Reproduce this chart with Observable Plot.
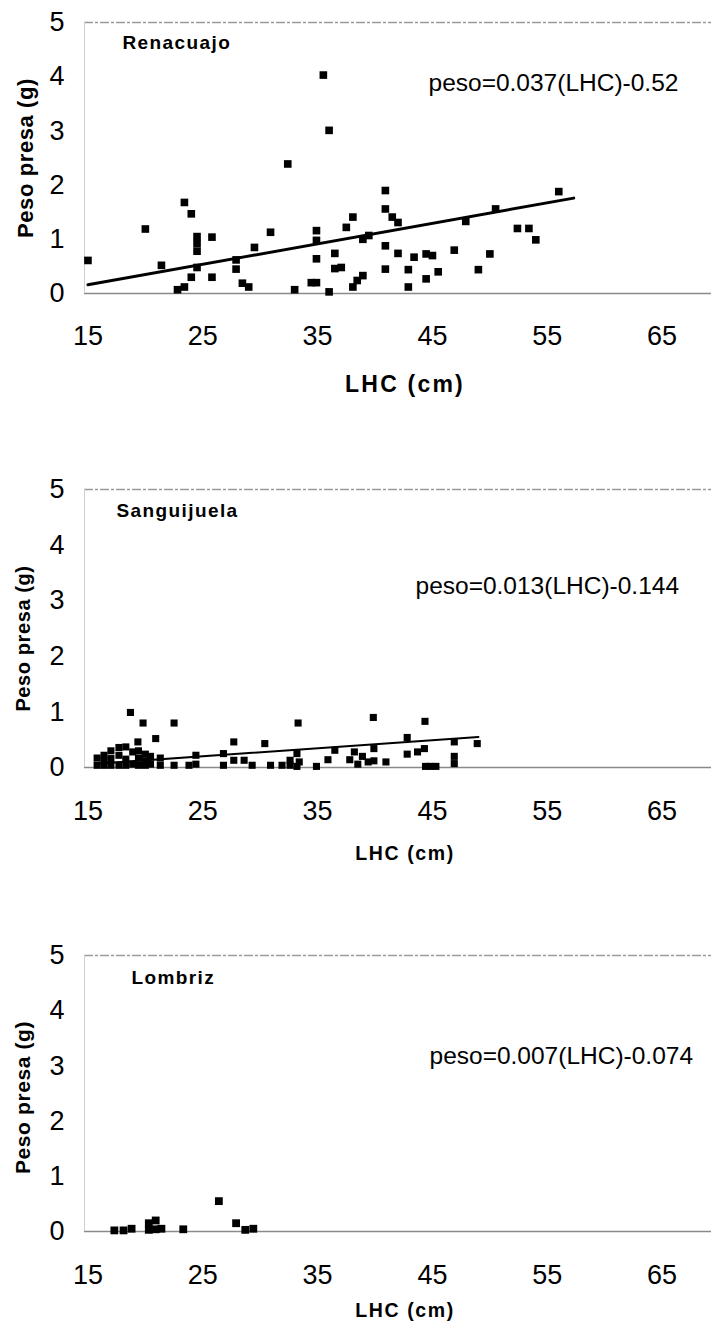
<!DOCTYPE html>
<html><head><meta charset="utf-8">
<script src="https://cdn.jsdelivr.net/npm/d3@7"></script>
<script src="https://cdn.jsdelivr.net/npm/@observablehq/plot@0.6"></script>
<style>
body{margin:0;background:#fff;}
#chart svg{display:block;}
</style></head><body><div id="chart"></div>
<script>
const xTicks = [15, 25, 35, 45, 55, 65];
const yTicks = [0, 1, 2, 3, 4, 5];
const xDomain = [14.7, 69.3];
const yDomain = [0, 5];
const yLabel = "Peso presa (g)";
const xLabel = "LHC (cm)";

// Renacuajo
const renTitle = "Renacuajo";
const renEq = "peso=0.037(LHC)-0.52";
const renX = [15.0,20.0,21.4,23.4,24.0,24.5,24.5,24.5,24.5,24.0,23.4,22.8,25.8,25.8,27.9,27.9,28.45,29.0,29.5,30.9,32.4,33.0,34.45,34.9,34.9,34.9,34.9,35.5,36.0,36.0,36.5,36.5,37.06,37.5,38.07,38.07,38.45,38.94,38.94,39.46,40.9,40.9,40.9,40.9,41.5,42.0,42.0,42.9,42.9,43.4,44.45,45.0,44.45,45.5,46.9,47.9,49.0,50.0,50.5,52.4,53.4,54.0,56.0];
const renY = [0.61,1.19,0.52,1.68,1.47,1.05,0.92,0.78,0.48,0.30,0.12,0.07,1.04,0.30,0.62,0.45,0.19,0.12,0.85,1.13,2.39,0.07,0.20,0.20,1.16,0.98,0.64,4.03,3.01,0.03,0.74,0.46,0.48,1.22,1.41,0.12,0.24,0.33,1.00,1.07,1.90,1.56,0.88,0.45,1.41,1.31,0.74,0.44,0.12,0.67,0.73,0.70,0.27,0.40,0.80,1.33,0.44,0.73,1.56,1.20,1.20,0.99,1.88];
const renLineX = [15, 57.3];
const renLineY = [0.16, 1.76];

// Sanguijuela
const sanTitle = "Sanguijuela";
const sanEq = "peso=0.013(LHC)-0.144";
const sanX = [15.8,15.8,16.4,16.4,16.4,17.0,17.0,17.0,17.7,17.7,17.7,18.3,18.3,18.3,18.9,18.9,19.4,19.4,19.4,20.0,20.0,20.0,20.45,20.45,21.3,21.3,18.7,19.8,22.5,20.9,19.35,22.5,23.8,24.4,24.4,26.8,26.8,27.7,27.7,28.6,29.3,30.4,30.9,31.9,32.6,32.6,33.3,33.2,33.4,33.2,34.9,35.9,36.5,37.8,38.2,38.5,38.9,39.4,39.9,39.9,39.85,40.95,42.8,42.8,43.7,44.3,44.35,44.4,44.8,45.3,46.9,46.9,46.9,48.9];
const sanY = [0.04,0.17,0.04,0.22,0.12,0.04,0.30,0.16,0.04,0.36,0.22,0.04,0.37,0.15,0.06,0.28,0.04,0.30,0.17,0.04,0.24,0.12,0.06,0.20,0.04,0.17,0.99,0.80,0.80,0.52,0.46,0.04,0.04,0.22,0.06,0.25,0.04,0.46,0.13,0.13,0.04,0.43,0.04,0.04,0.13,0.04,0.80,0.25,0.10,0.02,0.02,0.14,0.31,0.14,0.28,0.06,0.20,0.10,0.34,0.12,0.90,0.10,0.54,0.24,0.28,0.34,0.83,0.02,0.02,0.02,0.46,0.20,0.07,0.43];
const sanLineX = [16, 49];
const sanLineY = [0.07, 0.55];

// Lombriz
const lomTitle = "Lombriz";
const lomEq = "peso=0.007(LHC)-0.074";
const lomX = [17.3,18.1,18.8,20.3,20.3,20.9,20.9,21.4,23.3,26.4,27.9,28.7,29.4];
const lomY = [0.02,0.02,0.05,0.15,0.03,0.20,0.04,0.05,0.04,0.55,0.15,0.03,0.05];

const FONT = "'Liberation Sans', Arial, Helvetica, sans-serif";

function panel(o) {
  const pts = o.xs.map((x, i) => ({x, y: o.ys[i]}));
  const marks = [
    Plot.ruleY([yDomain[1]], {stroke: "#9a9a9a", strokeWidth: 1.3, strokeDasharray: "9,2,3,2"}),
    Plot.ruleY([yDomain[0]], {stroke: "#8a8a8a", strokeWidth: 1.3}),
    Plot.ruleX([xDomain[0]], {stroke: "#cfcfcf", strokeWidth: 1}),
    Plot.axisX(xTicks, {tickSize: 0, tickPadding: o.xpad, fontSize: 27, label: null, tickFormat: d => String(d)}),
    Plot.axisY(yTicks, {tickSize: 0, tickPadding: 20, fontSize: 27, label: null, tickFormat: d => String(d)}),
    Plot.dot(pts, {x: "x", y: "y", symbol: "square", r: o.r, fill: "#000", stroke: null})
  ];
  if (o.lx) {
    const line = o.lx.map((x, i) => ({x, y: o.ly[i]}));
    marks.push(Plot.line(line, {x: "x", y: "y", stroke: "#000", strokeWidth: o.lw}));
  }
  marks.push(
    Plot.text([o.title], {frameAnchor: "top-left", textAnchor: "start", lineAnchor: "middle", dx: o.tdx, dy: o.tdy, fontSize: 19, fontWeight: "bold"}),
    Plot.text([o.eq], {frameAnchor: "top-left", textAnchor: "start", lineAnchor: "middle", dx: o.edx, dy: o.edy, fontSize: 24.5}),
    Plot.text([yLabel], {frameAnchor: "left", textAnchor: "middle", rotate: -90, lineAnchor: "middle", dx: o.ydx, dy: o.ydy, fontSize: o.yfs, fontWeight: "bold"}),
    Plot.text([xLabel], {frameAnchor: "bottom", textAnchor: "middle", lineAnchor: "middle", dx: 7, dy: o.xdy, fontSize: o.xfs, fontWeight: "bold"})
  );
  const svg = Plot.plot({
    width: 711, height: o.height,
    marginLeft: 84, marginRight: 0, marginTop: o.mt, marginBottom: o.mb,
    style: {fontFamily: FONT, background: "#fff", color: "#000", overflow: "visible"},
    x: {domain: xDomain},
    y: {domain: yDomain},
    marks
  });
  d3.select(svg).selectAll("text").each(function() {
    const t = this.textContent;
    if (t === o.title) this.setAttribute("letter-spacing", "1.4");
    if (t === xLabel) this.setAttribute("letter-spacing", o.xls);
    if (t === yLabel) this.setAttribute("letter-spacing", "0.6");
  });
  return svg;
}

const chart = document.getElementById("chart");
chart.append(panel({
  xs: renX, ys: renY, lx: renLineX, ly: renLineY, lw: 3, r: 4.3,
  title: renTitle, eq: renEq,
  height: 440, mt: 22, mb: 147, xpad: 32,
  tdx: 38, tdy: 20, edx: 344, edy: 61,
  ydx: -59, ydy: 0, yfs: 22, xdy: 91, xfs: 23, xls: "2.2"
}));
chart.append(panel({
  xs: sanX, ys: sanY, lx: sanLineX, ly: sanLineY, lw: 2, r: 4,
  title: sanTitle, eq: sanEq,
  height: 460, mt: 49, mb: 133, xpad: 33,
  tdx: 32, tdy: 21, edx: 331, edy: 97,
  ydx: -61, ydy: 10, yfs: 20, xdy: 86, xfs: 19.5, xls: "1.6"
}));
chart.append(panel({
  xs: lomX, ys: lomY, r: 4.4,
  title: lomTitle, eq: lomEq,
  height: 429, mt: 55, mb: 98, xpad: 33,
  tdx: 47, tdy: 22, edx: 345, edy: 101,
  ydx: -61, ydy: 4, yfs: 21, xdy: 79, xfs: 19.5, xls: "1.6"
}));
</script>
</body></html>
